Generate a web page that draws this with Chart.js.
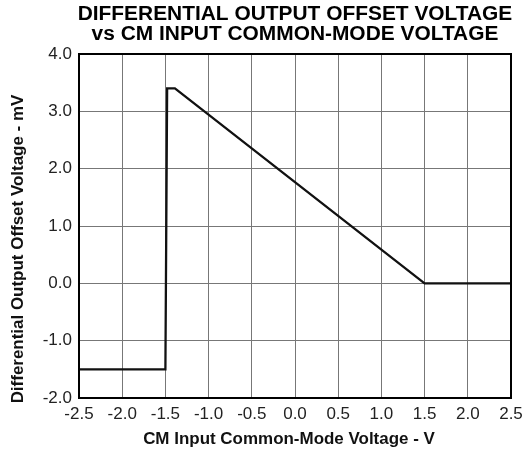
<!DOCTYPE html>
<html>
<head>
<meta charset="utf-8">
<script src="https://cdn.jsdelivr.net/npm/chart.js@4"></script>
<style>
  body { margin: 0; background: #fff; }
</style>
</head>
<body>
<canvas id="offsetChart" width="523" height="454"></canvas>
<script>
// CM input voltage (V) and differential output offset (mV)
const cmVoltage = [-2.5, -1.5, -1.48, -1.39, 1.5, 2.5];
const offsetMv = [-1.5, -1.5, 3.4, 3.4, 0, 0];
const titleLines = ['DIFFERENTIAL OUTPUT OFFSET VOLTAGE', 'vs CM INPUT COMMON-MODE VOLTAGE'];
const xTitle = 'CM Input Common-Mode Voltage - V';
const yTitle = 'Differential Output Offset Voltage - mV';

const fontFamily = '"Liberation Sans", Arial, sans-serif';

// slightly wide text, like the scanned datasheet lettering
function wideText(ctx, text, x, y, angle, stretch) {
    ctx.save();
    ctx.translate(x, y);
    ctx.rotate(angle);
    ctx.scale(stretch, 1);
    ctx.fillText(text, 0, 0);
    ctx.restore();
}

// frame round the plot, chart title and axis titles
const framePlugin = {
    id: 'frame',
    afterDraw(chart) {
        const { ctx, chartArea: a } = chart;
        ctx.save();
        ctx.strokeStyle = '#000';
        ctx.lineWidth = 2;
        ctx.strokeRect(a.left, a.top, a.right - a.left, a.bottom - a.top);

        ctx.fillStyle = '#000';
        ctx.textAlign = 'center';
        ctx.textBaseline = 'alphabetic';
        const cx = (a.left + a.right) / 2;
        ctx.font = 'bold 20px ' + fontFamily;
        wideText(ctx, titleLines[0], cx, 20, 0, 1.045);
        wideText(ctx, titleLines[1], cx, 40, 0, 1.045);

        ctx.fillStyle = '#111';
        ctx.font = 'bold 16px ' + fontFamily;
        wideText(ctx, xTitle, cx - 6, 444, 0, 1.06);
        wideText(ctx, yTitle, 23, (a.top + a.bottom) / 2 + 23, -Math.PI / 2, 1.06);
        ctx.restore();
    }
};

const ctx = document.getElementById('offsetChart').getContext('2d');
new Chart(ctx, {
    type: 'line',
    data: {
        datasets: [{
            data: cmVoltage.map((x, i) => ({ x: x, y: offsetMv[i] })),
            borderColor: '#111',
            borderWidth: 2.3,
            pointRadius: 0,
            tension: 0,
            fill: false
        }]
    },
    options: {
        responsive: false,
        animation: false,
        layout: { padding: { top: 54, right: 12, left: 0, bottom: 0 } },
        plugins: {
            legend: { display: false },
            tooltip: { enabled: false }
        },
        scales: {
            x: {
                type: 'linear',
                min: -2.5,
                max: 2.5,
                afterFit: scale => {
                    scale.height = 56;
                    scale.paddingLeft = 0;
                    scale.paddingRight = 0;
                },
                ticks: {
                    stepSize: 0.5,
                    padding: 6,
                    color: '#222',
                    font: { family: fontFamily, size: 17 },
                    callback: v => v.toFixed(1)
                },
                grid: { color: '#777', lineWidth: 1, drawTicks: false },
                border: { color: '#000', width: 2 }
            },
            y: {
                min: -2,
                max: 4,
                afterFit: scale => {
                    scale.width = 79;
                    scale.paddingTop = 0;
                    scale.paddingBottom = 0;
                },
                ticks: {
                    stepSize: 1,
                    padding: 7,
                    color: '#222',
                    font: { family: fontFamily, size: 17 },
                    callback: v => v.toFixed(1)
                },
                grid: { color: '#777', lineWidth: 1, drawTicks: false },
                border: { color: '#000', width: 2 }
            }
        }
    },
    plugins: [framePlugin]
});
</script>
</body>
</html>
